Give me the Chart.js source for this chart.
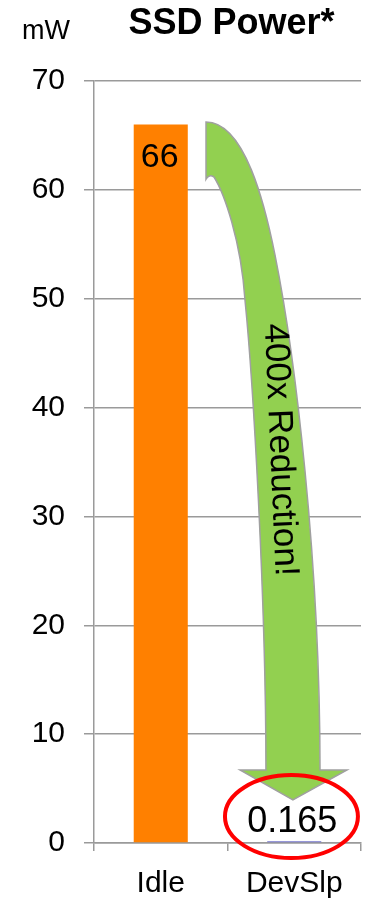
<!DOCTYPE html>
<html>
<head>
<meta charset="utf-8">
<script src="https://cdn.jsdelivr.net/npm/chart.js@4.4.1/dist/chart.umd.min.js"></script>
<style>
  html, body { margin: 0; padding: 0; background: #fff; }
  canvas { display: block; }
</style>
</head>
<body>
<canvas id="chart" width="365" height="898"></canvas>
<script>
const categories = ['Idle', 'DevSlp'];
const powerValues = [66, 0.165];
const yTicks = [0, 10, 20, 30, 40, 50, 60, 70];
const chartTitle = 'SSD Power*';
const unitLabel = 'mW';
const arrowText = '400x Reduction!';

const FONT = '"Liberation Sans", Arial, Helvetica, sans-serif';
const GRID = '#9a9a9a';

// curved arrow as [category position, mW]: two cubic segments per edge
const arrowOuter = [[0.339, 66.23], [0.631, 66.23], [0.781, 58.61], [0.856, 54.01],
  [1.006, 44.83], [1.193, 26.0], [1.193, 6.71]];
const arrowHead = [[1.395, 6.71], [0.99, 3.95], [0.594, 6.71]];
const arrowInner = [[0.788, 6.71], [0.788, 22.32], [0.691, 42.53], [0.631, 49.88],
  [0.601, 55.39], [0.474, 59.71], [0.399, 61.18], [0.361, 61.46], [0.339, 60.99]];

Chart.defaults.font.family = FONT;

const overlay = {
    id: 'overlay',
    afterDatasetsDraw(chart) {
        const { ctx, chartArea, scales: { x, y } } = chart;
        const x0 = x.getPixelForValue(0);
        const dx = x.getPixelForValue(1) - x0;
        const P = ([c, v]) => [x0 + c * dx, y.getPixelForValue(v)];

        ctx.save();

        // arrow
        const o = arrowOuter.map(P);
        const n = arrowInner.map(P);
        ctx.beginPath();
        ctx.moveTo(...o[0]);
        ctx.bezierCurveTo(...o[1], ...o[2], ...o[3]);
        ctx.bezierCurveTo(...o[4], ...o[5], ...o[6]);
        arrowHead.map(P).forEach(p => ctx.lineTo(...p));
        ctx.lineTo(...n[0]);
        ctx.bezierCurveTo(...n[1], ...n[2], ...n[3]);
        ctx.bezierCurveTo(...n[4], ...n[5], ...n[6]);
        ctx.quadraticCurveTo(...n[7], ...n[8]);
        ctx.closePath();
        ctx.fillStyle = '#92d050';
        ctx.fill();
        ctx.strokeStyle = '#a0a0a0';
        ctx.lineWidth = 1.5;
        ctx.stroke();

        // arrow text
        const t = P([0.893, 36.1]);
        ctx.save();
        ctx.translate(t[0], t[1]);
        ctx.rotate(87.5 * Math.PI / 180);
        ctx.fillStyle = '#000';
        ctx.font = '35px ' + FONT;
        ctx.textAlign = 'center';
        ctx.textBaseline = 'middle';
        ctx.fillText(arrowText, 0, 0);
        ctx.restore();

        // value labels
        const bars = chart.getDatasetMeta(0).data;
        ctx.fillStyle = '#000';
        ctx.textAlign = 'center';
        ctx.textBaseline = 'middle';
        ctx.font = '34px ' + FONT;
        ctx.fillText(String(powerValues[0]), bars[0].x - 1, bars[0].y + 33);
        ctx.font = '36px ' + FONT;
        ctx.fillText(String(powerValues[1]), bars[1].x - 2, bars[1].y - 19);

        // red ellipse
        const e = P([0.979, 2.43]);
        ctx.beginPath();
        ctx.ellipse(e[0], e[1], 0.498 * dx, y.getPixelForValue(0) - y.getPixelForValue(3.81), 0, 0, Math.PI * 2);
        ctx.strokeStyle = '#ff0000';
        ctx.lineWidth = 4;
        ctx.stroke();

        // title and unit
        ctx.fillStyle = '#000';
        ctx.textBaseline = 'alphabetic';
        ctx.font = 'bold 36px ' + FONT;
        ctx.textAlign = 'center';
        ctx.fillText(chartTitle, (chartArea.left + chartArea.right) / 2 + 4, chartArea.top - 47);
        ctx.font = '27px ' + FONT;
        ctx.textAlign = 'left';
        ctx.fillText(unitLabel, 22, chartArea.top - 42);

        ctx.restore();
    }
};

new Chart(document.getElementById('chart'), {
    type: 'bar',
    data: {
        labels: categories,
        datasets: [{
            data: powerValues,
            backgroundColor: ['#ff8000', '#7575cc'],
            borderWidth: 0,
            barPercentage: 0.9,
            categoryPercentage: 0.45,
        }],
    },
    options: {
        responsive: false,
        animation: false,
        layout: { padding: { top: 81, right: 4, left: 0, bottom: 0 } },
        plugins: { legend: { display: false }, tooltip: { enabled: false } },
        scales: {
            x: {
                grid: { offset: true, drawOnChartArea: false, drawTicks: true, tickLength: 8, color: GRID, lineWidth: 1.5 },
                border: { display: true, color: GRID, width: 1.5 },
                ticks: { color: '#000', font: { size: 30 }, padding: 15, maxRotation: 0 },
                afterFit: s => { s.height = 55; },
            },
            y: {
                min: 0,
                max: 70,
                afterBuildTicks: s => { s.ticks = yTicks.map(v => ({ value: v })); },
                grid: { color: GRID, lineWidth: 1.5, tickLength: 10 },
                border: { display: true, color: GRID, width: 1.5 },
                ticks: { color: '#000', font: { size: 30 }, padding: 19 },
                afterFit: s => { s.width = 94; },
            },
        },
    },
    plugins: [overlay],
});
</script>
</body>
</html>
